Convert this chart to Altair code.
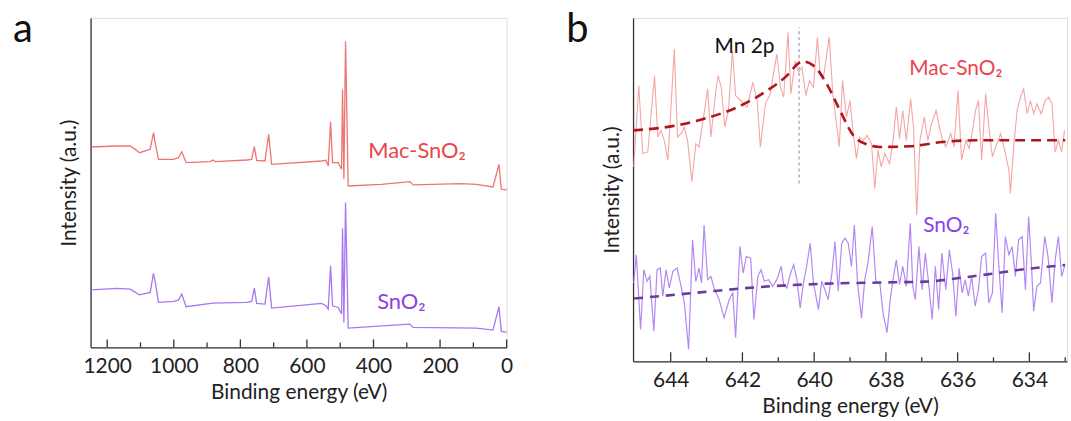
import altair as alt
import pandas as pd

# ---------------- Panel a : survey spectra ----------------
a_mac_energy = [1248, 1171, 1131, 1116, 1103, 1071, 1061, 1055, 1046, 1001, 986, 976, 963, 891, 883, 875,
                781, 766, 758, 751, 726, 715, 706, 556, 543, 536, 529, 523, 506, 496, 493, 489, 484, 476,
                376, 291, 281, 136, 91, 41, 23, 16, 0]
a_mac_intensity = [752, 755, 755, 745, 735, 745, 795, 760, 715, 715, 720, 738, 705, 708, 713, 708,
                   713, 715, 753, 712, 710, 790, 700, 710, 712, 695, 828, 705, 705, 685, 925, 655, 1070, 635,
                   640, 648, 638, 642, 640, 632, 700, 625, 623]
a_sno2_energy = [1248, 1171, 1131, 1103, 1071, 1061, 1055, 1046, 1001, 986, 976, 963, 883,
                 781, 766, 758, 751, 726, 715, 706, 556, 543, 536, 529, 523, 506, 496, 493, 489, 484, 476,
                 291, 281, 91, 41, 23, 16, 0]
a_sno2_intensity = [323, 327, 325, 308, 315, 372, 342, 285, 288, 292, 310, 272, 283,
                    285, 288, 328, 282, 280, 362, 268, 282, 275, 265, 395, 275, 270, 250, 508, 225, 585, 208,
                    220, 210, 208, 202, 272, 198, 195]
a_major_ticks = [0, 200, 400, 600, 800, 1000, 1200]
a_minor_ticks = [100, 300, 500, 700, 900, 1100]

# ---------------- Panel b : Mn 2p region ----------------
b_mac_energy = [645.03, 644.89, 644.78, 644.64, 644.45, 644.36, 644.27, 644.18, 644.08, 644.01, 643.90, 643.81,
                643.71, 643.62, 643.53, 643.41, 643.30, 643.21, 643.07, 642.97, 642.88, 642.74, 642.68, 642.59,
                642.49, 642.39, 642.28, 642.19, 642.05, 641.87, 641.71, 641.59, 641.50, 641.36, 641.22, 641.13,
                641.04, 640.94, 640.85, 640.73, 640.65, 640.53, 640.44, 640.34, 640.23, 640.13, 640.02, 639.91,
                639.84, 639.74, 639.58, 639.48, 639.39, 639.30, 639.21, 639.10, 639.00, 638.91, 638.82, 638.73,
                638.62, 638.52, 638.40, 638.31, 638.22, 638.13, 638.03, 637.90, 637.80, 637.71, 637.62, 637.53,
                637.43, 637.31, 637.23, 637.14, 637.05, 636.93, 636.83, 636.74, 636.60, 636.51, 636.42, 636.33,
                636.19, 636.10, 635.99, 635.89, 635.77, 635.68, 635.59, 635.50, 635.42, 635.33, 635.22, 635.13,
                635.03, 634.94, 634.80, 634.71, 634.57, 634.53, 634.43, 634.34, 634.25, 634.16, 634.06, 633.97,
                633.88, 633.79, 633.67, 633.56, 633.46, 633.37, 633.28, 633.19, 633.10, 633.02]
b_mac_intensity = [1000, 1245, 1040, 1045, 1275, 1090, 1110, 1080, 1020, 1145, 1355, 1090,
                   1100, 1120, 1080, 955, 1070, 1060, 1160, 1235, 1090, 1230, 1275, 1240,
                   1120, 1170, 1350, 1215, 1200, 1180, 1255, 1200, 1060, 1190, 1220, 1285,
                   1340, 1240, 1210, 1405, 1220, 1320, 1285, 1300, 1215, 1260, 1240, 1390,
                   1290, 1270, 1392, 1220, 1140, 1060, 1260, 1150, 1200, 1100, 1025, 1090,
                   1080, 1095, 1070, 935, 1050, 1000, 1040, 1010, 1080, 1180, 1085, 1170,
                   1080, 1205, 1120, 855, 1080, 1150, 1080, 1125, 1170, 1120, 1080, 1060,
                   1100, 1060, 1230, 1020, 1080, 1055, 1105, 1170, 1200, 1020, 1220, 1120,
                   1030, 1060, 1100, 1060, 990, 920, 1070, 1170, 1210, 1235, 1160, 1200,
                   1160, 1190, 1160, 1200, 1210, 1190, 1045, 1080, 1045, 1110]
b_mac_fit_energy = [645.05, 643.99, 643.07, 642.14, 641.31, 640.76, 640.44, 640.35, 640.02, 639.65, 639.28,
                    638.91, 638.54, 638.17, 637.34, 636.42, 635.50, 633.00]
b_mac_fit_intensity = [1110, 1122, 1145, 1180, 1230, 1275, 1312, 1318, 1305, 1250, 1170,
                       1095, 1068, 1060, 1062, 1075, 1080, 1080]

b_sno2_energy = [645.03, 644.96, 644.84, 644.75, 644.66, 644.58, 644.47, 644.38, 644.29, 644.22, 644.13, 644.04,
                 643.94, 643.82, 643.71, 643.62, 643.50, 643.39, 643.30, 643.21, 643.14, 643.07, 642.97, 642.88,
                 642.79, 642.65, 642.51, 642.37, 642.27, 642.19, 642.07, 641.98, 641.89, 641.77, 641.68, 641.57,
                 641.48, 641.39, 641.27, 641.16, 641.04, 640.92, 640.85, 640.76, 640.67, 640.57, 640.48, 640.39,
                 640.30, 640.21, 640.11, 640.02, 639.88, 639.79, 639.70, 639.61, 639.51, 639.42, 639.33, 639.23,
                 639.14, 639.05, 638.96, 638.88, 638.79, 638.68, 638.59, 638.50, 638.38, 638.28, 638.17, 638.08,
                 637.97, 637.88, 637.80, 637.71, 637.62, 637.53, 637.43, 637.32, 637.25, 637.18, 637.08, 636.99,
                 636.90, 636.81, 636.71, 636.62, 636.53, 636.44, 636.33, 636.23, 636.14, 636.05, 635.96, 635.87,
                 635.79, 635.70, 635.61, 635.51, 635.42, 635.33, 635.22, 635.13, 635.03, 634.94, 634.85, 634.76,
                 634.67, 634.57, 634.48, 634.39, 634.30, 634.20, 634.11, 634.02, 633.94, 633.88, 633.79, 633.69,
                 633.57, 633.48, 633.37, 633.28, 633.19, 633.10, 633.02]
b_sno2_intensity = [650, 735, 510, 690, 655, 670, 505, 690, 695, 610, 690, 635,
                    685, 695, 640, 590, 450, 780, 655, 695, 650, 825, 660, 670,
                    635, 600, 545, 600, 620, 485, 760, 680, 730, 725, 540, 670,
                    690, 655, 660, 640, 660, 700, 645, 635, 675, 705, 660, 575,
                    650, 700, 770, 650, 570, 655, 630, 600, 675, 775, 625, 770,
                    785, 770, 700, 825, 650, 545, 660, 710, 820, 655, 650, 560,
                    500, 600, 660, 720, 645, 700, 640, 830, 640, 600, 760, 630,
                    740, 650, 540, 700, 570, 740, 630, 750, 680, 550, 695, 620,
                    660, 610, 670, 580, 630, 730, 740, 590, 620, 860, 700, 560,
                    790, 735, 760, 670, 780, 790, 630, 850, 700, 565, 640, 650,
                    790, 730, 590, 720, 790, 670, 700]
b_sno2_fit_energy = [645.02, 643.34, 641.50, 639.65, 637.80, 636.88, 635.96, 635.03, 634.11, 633.00]
b_sno2_fit_intensity = [603, 620, 638, 648, 652, 654, 665, 678, 692, 704]

b_major_ticks = [634, 636, 638, 640, 642, 644]
b_minor_ticks = [633, 635, 637, 639, 641, 643]
mn2p_line_energy = [640.42]
mn2p_line_low = [950]
mn2p_line_high = [1420]

FONT = "Lato"
TXT = "#222222"
RED_A = "#ef7373"
PUR_A = "#a876f2"
RED_B = "#f5a5a5"
PUR_B = "#b488f4"
RED_FIT = "#b3141c"
PUR_FIT = "#6a3a9c"
RED_LBL = "#e8474c"
PUR_LBL = "#8e3fe6"


def axis_x(values):
    return alt.Axis(values=values, format="d", ticks=False, grid=False, title="Binding energy (eV)",
                    labelFontSize=21, labelFont=FONT, labelColor=TXT, labelPadding=8,
                    titleFontSize=21, titleFont=FONT, titleFontWeight="normal", titleColor=TXT,
                    titlePadding=5, domainColor="#333333", domainWidth=1.3, labelFlush=False)


def axis_y():
    return alt.Axis(labels=False, ticks=False, grid=False, title="Intensity (a.u.)",
                    titleFontSize=21, titleFont=FONT, titleFontWeight="normal", titleColor=TXT,
                    titlePadding=11, domainColor="#333333", domainWidth=1.3)


# ---- panel a ----
HA = 331
WA = 418
xa_scale = alt.Scale(domain=[0, 1250], reverse=True, nice=False, zero=False)
ya_scale = alt.Scale(domain=[150, 1140], nice=False, zero=False)
XA = alt.X("E:Q", scale=xa_scale, axis=axis_x(a_major_ticks))
YA = alt.Y("I:Q", scale=ya_scale, axis=axis_y())

df_a_mac = pd.DataFrame({"E": a_mac_energy, "I": a_mac_intensity})
df_a_sno2 = pd.DataFrame({"E": a_sno2_energy, "I": a_sno2_intensity})

a_mac = alt.Chart(df_a_mac).mark_line(color=RED_A, strokeWidth=1.3).encode(x=XA, y=YA)
a_sno2 = alt.Chart(df_a_sno2).mark_line(color=PUR_A, strokeWidth=1.3).encode(x=XA, y=YA)
a_major = alt.Chart(pd.DataFrame({"E": a_major_ticks})).mark_rule(color="#333333", strokeWidth=1.3).encode(
    x=XA, y=alt.value(HA), y2=alt.value(HA - 8))
a_minor = alt.Chart(pd.DataFrame({"E": a_minor_ticks})).mark_rule(color="#333333", strokeWidth=1.3).encode(
    x=XA, y=alt.value(HA), y2=alt.value(HA - 5))
a_labels = alt.Chart(pd.DataFrame({"E": [416, 389], "I": [741, 285], "t": ["Mac-SnO₂", "SnO₂"],
                                   "c": [RED_LBL, PUR_LBL]})).mark_text(
    align="left", baseline="middle", fontSize=22, font=FONT).encode(
    x=XA, y=YA, text="t:N", color=alt.Color("c:N", scale=None))
a_letter = alt.Chart(pd.DataFrame({"t": ["a"]})).mark_text(
    align="left", baseline="alphabetic", fontSize=40, font=FONT, color="#111111").encode(
    x=alt.value(-78), y=alt.value(24), text="t:N")

panel_a = alt.layer(a_mac, a_sno2, a_major, a_minor, a_labels, a_letter).properties(width=WA, height=HA)

# ---- panel b ----
HB = 345
WB = 436
xb_scale = alt.Scale(domain=[632.95, 645.05], reverse=True, nice=False, zero=False)
yb_scale = alt.Scale(domain=[414, 1449], nice=False, zero=False)
XB = alt.X("E:Q", scale=xb_scale, axis=axis_x(b_major_ticks))
YB = alt.Y("I:Q", scale=yb_scale, axis=axis_y())

df_b_mac = pd.DataFrame({"E": b_mac_energy, "I": b_mac_intensity})
df_b_mac_fit = pd.DataFrame({"E": b_mac_fit_energy, "I": b_mac_fit_intensity})
df_b_sno2 = pd.DataFrame({"E": b_sno2_energy, "I": b_sno2_intensity})
df_b_sno2_fit = pd.DataFrame({"E": b_sno2_fit_energy, "I": b_sno2_fit_intensity})

b_mac = alt.Chart(df_b_mac).mark_line(color=RED_B, strokeWidth=1.1).encode(x=XB, y=YB)
b_sno2 = alt.Chart(df_b_sno2).mark_line(color=PUR_B, strokeWidth=1.2).encode(x=XB, y=YB)
b_vline = alt.Chart(pd.DataFrame({"E": mn2p_line_energy, "I": mn2p_line_low, "I2": mn2p_line_high})).mark_rule(
    color="#a79fbf", strokeWidth=1.3, strokeDash=[3, 3]).encode(x=XB, y=YB, y2="I2:Q")
b_mac_fit = alt.Chart(df_b_mac_fit).mark_line(color=RED_FIT, strokeWidth=2.6, strokeDash=[10, 6],
                                              interpolate="monotone").encode(x=XB, y=YB)
b_sno2_fit = alt.Chart(df_b_sno2_fit).mark_line(color=PUR_FIT, strokeWidth=2.6, strokeDash=[9, 7],
                                                interpolate="monotone").encode(x=XB, y=YB)
b_major = alt.Chart(pd.DataFrame({"E": b_major_ticks})).mark_rule(color="#333333", strokeWidth=1.3).encode(
    x=XB, y=alt.value(HB), y2=alt.value(HB - 9))
b_minor = alt.Chart(pd.DataFrame({"E": b_minor_ticks})).mark_rule(color="#333333", strokeWidth=1.3).encode(
    x=XB, y=alt.value(HB), y2=alt.value(HB - 4))
b_labels = alt.Chart(pd.DataFrame({"E": [642.78, 637.35, 636.96], "I": [1362, 1296, 822],
                                   "t": ["Mn 2p", "Mac-SnO₂", "SnO₂"],
                                   "c": ["#111111", RED_LBL, PUR_LBL]})).mark_text(
    align="left", baseline="middle", fontSize=21, font=FONT).encode(
    x=XB, y=YB, text="t:N", color=alt.Color("c:N", scale=None))
b_letter = alt.Chart(pd.DataFrame({"t": ["b"]})).mark_text(
    align="left", baseline="alphabetic", fontSize=40, font=FONT, color="#111111").encode(
    x=alt.value(-67), y=alt.value(24), text="t:N")

panel_b = alt.layer(b_mac, b_sno2, b_vline, b_mac_fit, b_sno2_fit, b_major, b_minor, b_labels, b_letter
                    ).properties(width=WB, height=HB)

chart = alt.hconcat(panel_a, panel_b, spacing=127, bounds="flush").properties(
    padding={"left": 12, "top": 8, "right": 0, "bottom": 0}
).configure_view(stroke="#555555", strokeWidth=1.2).configure(font=FONT)

chart.save("out.html", embed_options={"renderer": "svg", "actions": False})
